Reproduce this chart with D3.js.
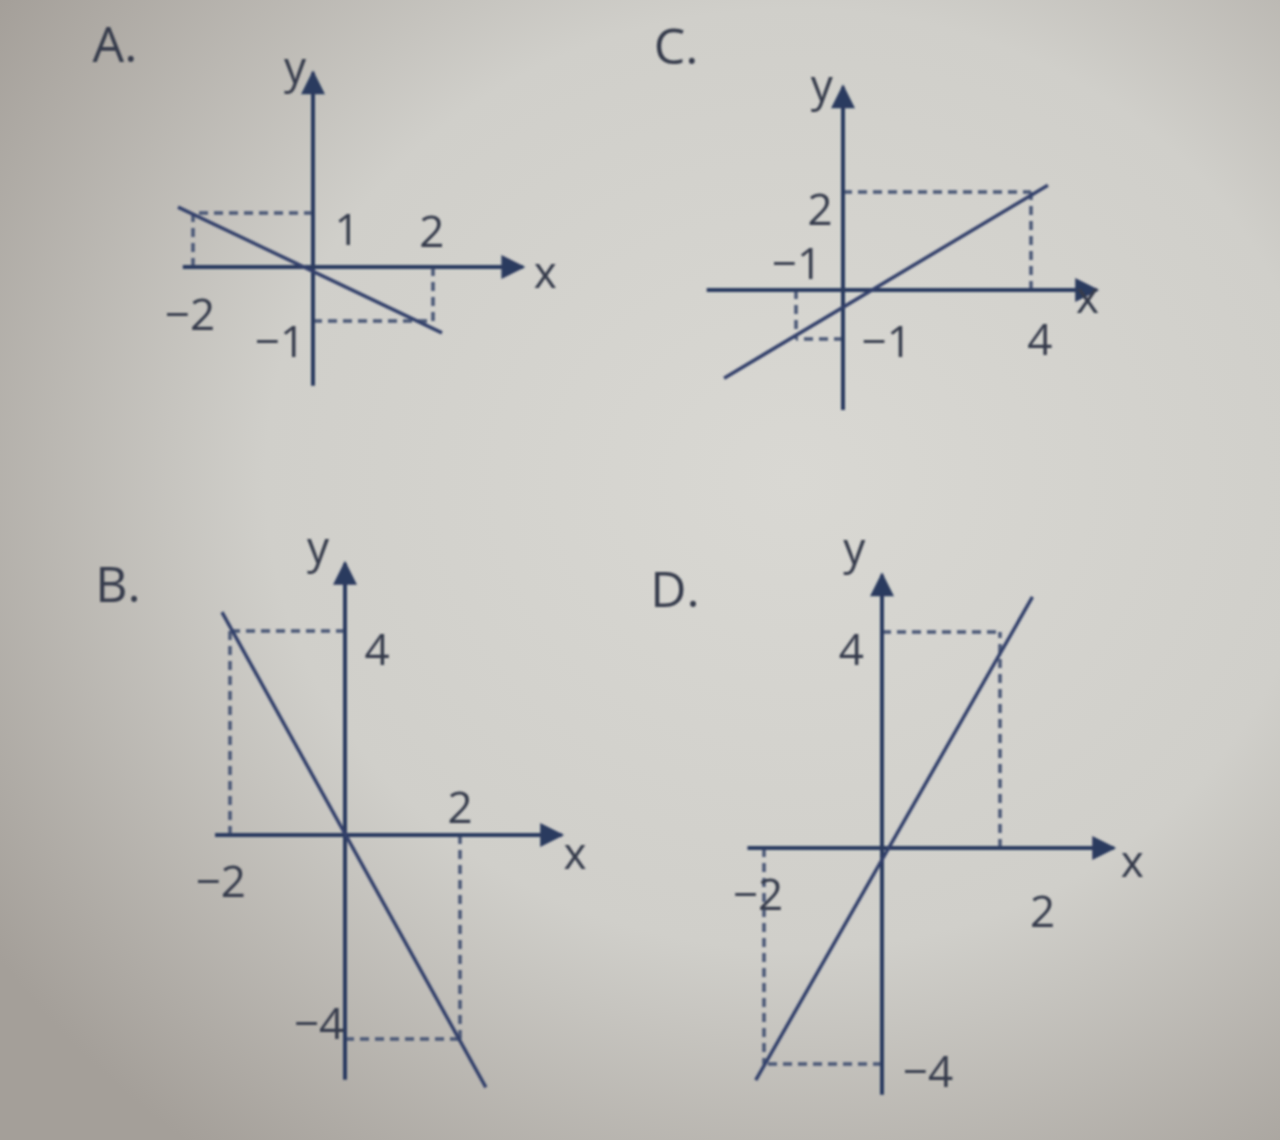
<!DOCTYPE html>
<html>
<head>
<meta charset="utf-8">
<script src="https://cdn.jsdelivr.net/npm/d3@7"></script>
<style>
  html, body { margin: 0; padding: 0; background: #c4c3be; }
  svg { display: block; }
</style>
</head>
<body>
<script>
// ---------- data ----------
const panelNames = ["A.", "C.", "B.", "D."];

// each graphed line: two end points in data units [x, y]
const lineA = [[-2.25, 1.11], [2.15, -1.22]];
const lineC = [[-2.53, -1.8], [4.36, 2.14]];
const lineB = [[-2.14, 4.37], [2.45, -4.95]];
const lineD = [[-2.14, -4.3], [2.55, 4.65]];

// marked points with dashed guides to the axes
const guidesA = [[-2, 1], [2, -1]];
const guidesC = [[-1, -1], [4, 2]];
const guidesB = [[-2, 4], [2, -4]];
const guidesD = [[-2, -4], [2, 4]];

// axis extents [min, max] in data units
const xExtA = [-2.17, 3.5], yExtA = [-2.2, 3.6];
const xExtC = [-2.9, 5.4],  yExtC = [-2.45, 4.15];
const xExtB = [-2.26, 3.77], yExtB = [-4.8, 5.33];
const xExtD = [-2.28, 3.93], yExtD = [-4.57, 5.06];

// tick labels: [text, x, y] where they are printed (data units)
const labelsA = [["1", 0.57, 0.72], ["2", 1.98, 0.68], ["\u22122", -2.05, -0.85], ["\u22121", -0.55, -1.36]];
const labelsC = [["2", -0.49, 1.68], ["\u22121", -0.98, 0.57], ["\u22121", 0.93, -1.03], ["4", 4.19, -0.98]];
const labelsB = [["4", 0.56, 3.67], ["2", 2.0, 0.57], ["\u22122", -2.16, -0.88], ["\u22124", -0.45, -3.67]];
const labelsD = [["4", -0.52, 3.7], ["2", 2.72, -1.15], ["\u22122", -2.1, -0.83], ["\u22124", 0.78, -4.12]];

// axis-name labels: [text, x, y]
const axisNamesA = [["x", 3.87, -0.07], ["y", -0.3, 3.72]];
const axisNamesC = [["x", 5.2, -0.12], ["y", -0.45, 4.2]];
const axisNamesB = [["x", 4.0, -0.33], ["y", -0.47, 5.67]];
const axisNamesD = [["x", 4.24, -0.22], ["y", -0.47, 5.58]];

// ---------- layout (pixels) ----------
const W = 1280, H = 1140;
const panels = [
  { name: panelNames[0], title: [115, 43],  origin: [313, 267], unit: [60, 54],   line: lineA, guides: guidesA, xExt: xExtA, yExt: yExtA, labels: labelsA, names: axisNamesA },
  { name: panelNames[1], title: [676, 45],  origin: [843, 290], unit: [47, 49],   line: lineC, guides: guidesC, xExt: xExtC, yExt: yExtC, labels: labelsC, names: axisNamesC },
  { name: panelNames[2], title: [118, 583], origin: [345, 835], unit: [57.5, 51], line: lineB, guides: guidesB, xExt: xExtB, yExt: yExtB, labels: labelsB, names: axisNamesB },
  { name: panelNames[3], title: [675, 588], origin: [882, 848], unit: [59, 54],   line: lineD, guides: guidesD, xExt: xExtD, yExt: yExtD, labels: labelsD, names: axisNamesD }
];

const axisColor = "#2b3a5e";
const lineColor = "#33406a";
const dashColor = "#485676";
const textColor = "#363b4b";
const font = "'Open Sans', 'Liberation Sans', sans-serif";

const svg = d3.select("body").append("svg")
  .attr("width", W).attr("height", H);

const defs = svg.append("defs");
const bg = defs.append("radialGradient").attr("id", "bg")
  .attr("cx", "62%").attr("cy", "42%").attr("r", "75%");
bg.append("stop").attr("offset", "0%").attr("stop-color", "#d9d8d3");
bg.append("stop").attr("offset", "55%").attr("stop-color", "#d0cfca");
bg.append("stop").attr("offset", "100%").attr("stop-color", "#a49f99");

const blur = defs.append("filter").attr("id", "soft")
  .attr("x", "-5%").attr("y", "-5%").attr("width", "110%").attr("height", "110%");
blur.append("feGaussianBlur").attr("stdDeviation", 0.9);

defs.append("marker").attr("id", "arrow")
  .attr("viewBox", "0 0 10 10").attr("refX", 9).attr("refY", 5)
  .attr("markerWidth", 7).attr("markerHeight", 6)
  .attr("markerUnits", "strokeWidth").attr("orient", "auto")
  .append("path").attr("d", "M0,0 L10,5 L0,10 Z").attr("fill", axisColor);

svg.append("rect").attr("width", W).attr("height", H).attr("fill", "url(#bg)");

const root = svg.append("g").attr("filter", "url(#soft)");

panels.forEach(p => {
  const [ox, oy] = p.origin, [ux, uy] = p.unit;
  const x = d3.scaleLinear().domain([0, 1]).range([ox, ox + ux]);
  const y = d3.scaleLinear().domain([0, 1]).range([oy, oy - uy]);
  const g = root.append("g");

  // panel title
  g.append("text").attr("x", p.title[0]).attr("y", p.title[1])
    .attr("text-anchor", "middle").attr("dominant-baseline", "central")
    .attr("font-family", font).attr("font-size", 50).attr("fill", textColor)
    .text(p.name);

  // dashed guides
  p.guides.forEach(([gx, gy]) => {
    g.append("line").attr("x1", x(0)).attr("y1", y(gy)).attr("x2", x(gx)).attr("y2", y(gy))
      .attr("stroke", dashColor).attr("stroke-width", 3.5).attr("stroke-dasharray", "9,6");
    g.append("line").attr("x1", x(gx)).attr("y1", y(0)).attr("x2", x(gx)).attr("y2", y(gy))
      .attr("stroke", dashColor).attr("stroke-width", 3.5).attr("stroke-dasharray", "9,6");
  });

  // axes with arrowheads
  g.append("line").attr("x1", x(p.xExt[0])).attr("y1", y(0)).attr("x2", x(p.xExt[1])).attr("y2", y(0))
    .attr("stroke", axisColor).attr("stroke-width", 4).attr("marker-end", "url(#arrow)");
  g.append("line").attr("x1", x(0)).attr("y1", y(p.yExt[0])).attr("x2", x(0)).attr("y2", y(p.yExt[1]))
    .attr("stroke", axisColor).attr("stroke-width", 4).attr("marker-end", "url(#arrow)");

  // graphed line
  g.append("path").datum(p.line)
    .attr("d", d3.line().x(d => x(d[0])).y(d => y(d[1])))
    .attr("fill", "none").attr("stroke", lineColor).attr("stroke-width", 3.5);

  // tick labels
  g.selectAll("text.tick").data(p.labels).join("text").attr("class", "tick")
    .attr("x", d => x(d[1])).attr("y", d => y(d[2]))
    .attr("text-anchor", "middle").attr("dominant-baseline", "central")
    .attr("font-family", font).attr("font-size", 44).attr("fill", textColor)
    .text(d => d[0]);

  // axis names
  g.selectAll("text.axname").data(p.names).join("text").attr("class", "axname")
    .attr("x", d => x(d[1])).attr("y", d => y(d[2]))
    .attr("text-anchor", "middle").attr("dominant-baseline", "central")
    .attr("font-family", font).attr("font-size", 44).attr("fill", textColor)
    .text(d => d[0]);
});
</script>
</body>
</html>
